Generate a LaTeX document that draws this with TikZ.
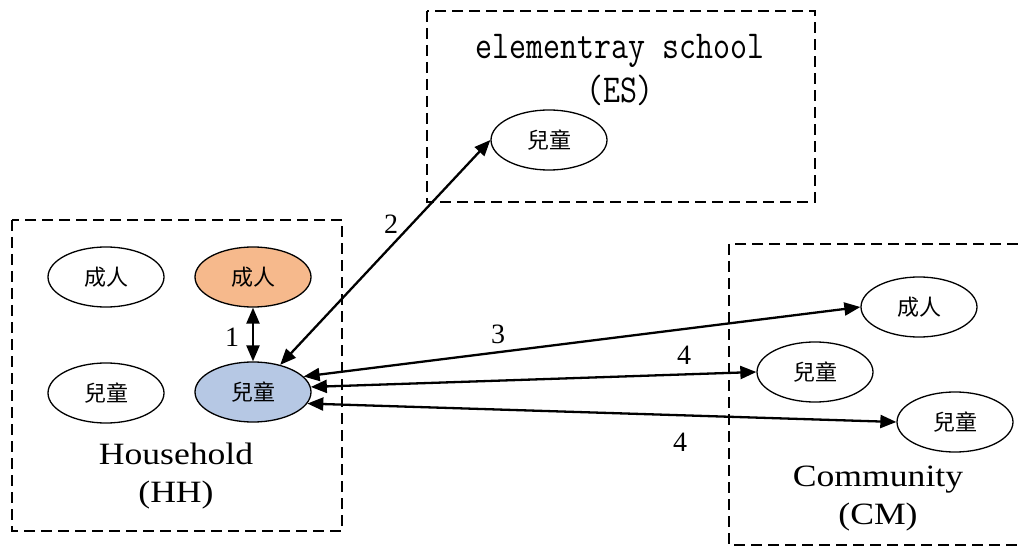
\documentclass[tikz,border=0pt]{standalone}
\usepackage{fontspec}
\setmainfont{Liberation Serif}
\newfontfamily\cjk{Noto Sans CJK TC}
\newfontfamily\wideserif[FakeStretch=1.15]{Liberation Serif}
\usetikzlibrary{shapes.geometric,arrows.meta}
\definecolor{adultorange}{RGB}{246,185,140}
\definecolor{childblue}{RGB}{182,200,228}
\tikzset{
  person/.style={ellipse, draw=black, line width=1.3pt, minimum width=116pt, minimum height=60pt, inner sep=0pt, font=\cjk\fontsize{22}{24}\selectfont},
  groupbox/.style={draw=black, line width=1.3pt, dash pattern=on 11pt off 6pt},
  rel/.style={line width=2.3pt, {Triangle[length=16pt,width=13pt]}-{Triangle[length=16pt,width=13pt]}},
  numlabel/.style={font=\fontsize{28}{30}\selectfont, inner sep=0pt},
  grouplabel/.style={font=\wideserif\fontsize{31}{38}\selectfont, align=center, inner sep=0pt},
  monolabel/.style={font=\ttfamily\fontsize{33}{40}\selectfont, align=center, inner sep=0pt}
}
\begin{document}
\begin{tikzpicture}[x=1pt,y=-1pt]
\useasboundingbox (0,0) rectangle (1018,548);
% group boxes
\draw[groupbox] (12,220) rectangle (342,531);
\draw[groupbox] (427,11) rectangle (815,202);
\draw[groupbox] (1018,244) -- (729,244) -- (729,545) -- (1018,545);
% group labels
\node[grouplabel] (hhlabel) at (176,476) {Household\\(HH)};
\node[monolabel] (eslabel) at (620,70) {\scalebox{1}[1.2]{elementray school}\\[4pt]\scalebox{1}[1.2]{(ES)}};
\node[grouplabel] (cmlabel) at (878,499) {Community\\(CM)};
% household
\node[person] (hhA) at (106,277) {成人};
\node[person, fill=adultorange] (hhB) at (253,277) {成人};
\node[person] (hhC) at (106,393) {兒童};
\node[person, fill=childblue] (hhD) at (253,392) {兒童};
% school
\node[person] (esA) at (549,140) {兒童};
% community
\node[person] (cmA) at (919,307) {成人};
\node[person] (cmB) at (815,372) {兒童};
\node[person] (cmC) at (955,422) {兒童};
% relations
\draw[rel] (hhB.south) -- (hhD.north);
\draw[rel] (hhD.45) -- (esA.west);
\draw[rel] (hhD.17) -- (cmA.west);
\draw[rel] (hhD.5) -- (cmB.west);
\draw[rel] (hhD.-12) -- (cmC.west);
% labels
\node[numlabel] (l1) at (232,337) {1};
\node[numlabel] (l2) at (391,224) {2};
\node[numlabel] (l3) at (498,334) {3};
\node[numlabel] (l4a) at (684,355) {4};
\node[numlabel] (l4b) at (680,442) {4};
\end{tikzpicture}
\end{document}
